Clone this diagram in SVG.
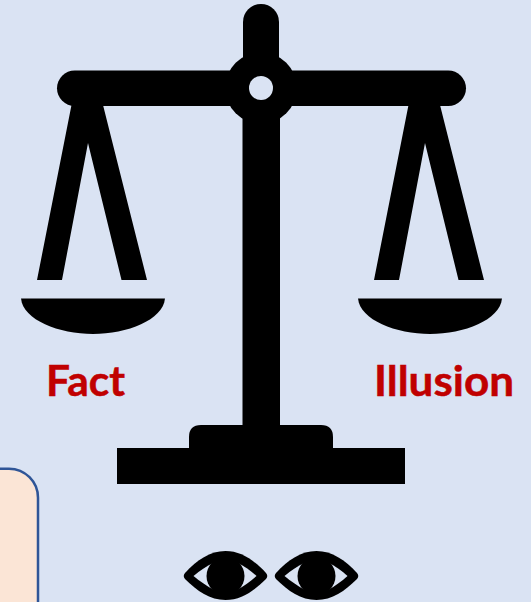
<svg xmlns="http://www.w3.org/2000/svg" width="531" height="602" viewBox="0 0 531 602">
<style>
.bg{fill:#DAE3F3}
.k{fill:#000}
.t{font-family:Lato,"Liberation Sans",sans-serif;font-weight:700;font-size:42px;fill:#C00000;stroke:#C00000;stroke-width:.5}
</style>
<defs>
<g id="hang"><path class="k" d="M71.500 105L37 280H62L88 143L121.500 280H147L103 105Z"/><path class="k" d="M21 298.500H165C163 320 127 334 93 334C59 334 23 320 21 298.500Z"/></g>
<g id="eye"><path class="k" d="M185 573C197 560 210 551 225.500 551C241 551 254 560 266 573Q268.500 576 266 579C254 591 241 600 225.500 600C210 600 197 591 185 579Q182.500 576 185 573Z"/><path class="bg" d="M193.500 576C200 570.500 207 566 214 562.500L237 562.500C244 566 250.500 570.500 256.500 576C250.500 581.500 244 586 237 590L214 590C207 586 200 581.500 193.500 576Z"/><circle class="k" cx="225.500" cy="576" r="19"/></g>
</defs>
<rect class="bg" width="531" height="602"/>
<g id="scale">
<path class="k" d="M243 88V22A18 18 0 0 1 279 22V88Z"/>
<rect class="k" x="242.500" y="88" width="37.500" height="345"/>
<rect class="k" x="57" y="70.500" width="409" height="35.500" rx="17.750"/>
<circle class="k" cx="261" cy="88" r="35.800"/>
<circle class="bg" cx="261" cy="88" r="12"/>
<path class="k" d="M189 448V437Q189 425 201 425H321Q333 425 333 437V448H405V484H117V448Z"/>
</g>
<g id="left-pan"><use href="#hang"/></g>
<g id="right-pan"><use href="#hang" x="337"/></g>
<g id="fact"><text class="t" x="46" y="396" textLength="79" lengthAdjust="spacingAndGlyphs">Fact</text></g>
<g id="illusion"><text class="t" x="374" y="396" textLength="140" lengthAdjust="spacingAndGlyphs">Illusion</text></g>
<g id="box"><rect x="-40" y="468.700" width="78" height="170" rx="29" fill="#FBE5D6" stroke="#2F5597" stroke-width="2.500"/></g>
<g id="eye-left"><use href="#eye"/></g>
<g id="eye-right"><use href="#eye" x="91"/></g>
<g id="connectors"/>
</svg>
